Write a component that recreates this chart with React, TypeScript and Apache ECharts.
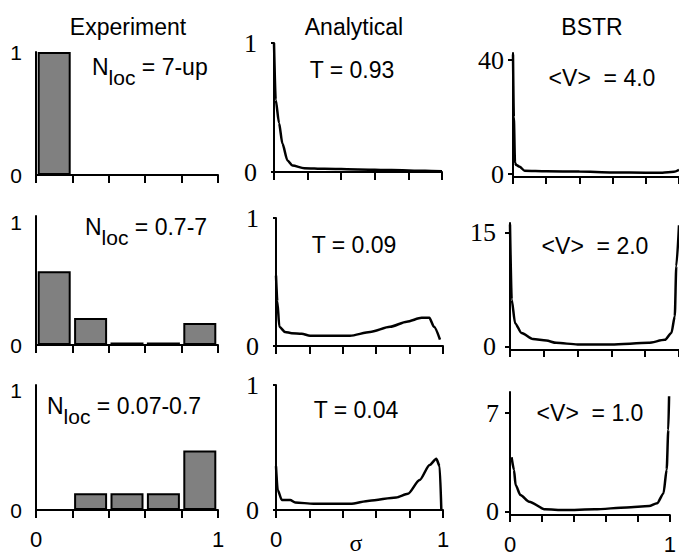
import React, { useEffect, useRef } from "react";
import * as echarts from "echarts";

// ---------- data ----------
const COLUMN_TITLES = ["Experiment", "Analytical", "BSTR"];
const BIN_CENTERS = [0.1, 0.3, 0.5, 0.7, 0.9];
const EXP_7UP: (number | null)[] = [1.0, null, null, null, null];
const EXP_07_7: (number | null)[] = [0.6, 0.22, 0.02, 0.02, 0.18];
const EXP_007_07: (number | null)[] = [null, 0.14, 0.14, 0.14, 0.5];
const NLOC_LABELS = ["7-up", "0.7-7", "0.07-0.7"];
const T_LABELS = ["0.93", "0.09", "0.04"];
const V_LABELS = ["4.0", "2.0", "1.0"];
const EXP_TOP_TICK = 1;
const ANA_TOP_TICK = 1;
const BSTR_TOP_TICKS = [40, 15, 7];
const X_TICK_LABELS = [0, 1];

const ANA1_X = [0, 0.01, 0.03, 0.05, 0.08, 0.11, 0.18, 0.3, 0.5, 0.7, 0.9, 1.0];
const ANA1_Y = [1.0, 0.56, 0.38, 0.22, 0.09, 0.05, 0.03, 0.025, 0.02, 0.015, 0.01, 0.005];
const ANA2_X = [0, 0.008, 0.02, 0.054, 0.094, 0.154, 0.204, 0.3, 0.443, 0.563, 0.683, 0.783, 0.872, 0.918, 0.946, 0.982];
const ANA2_Y = [0.55, 0.35, 0.15, 0.11, 0.1, 0.095, 0.08, 0.08, 0.08, 0.11, 0.15, 0.19, 0.22, 0.22, 0.15, 0.05];
const ANA3_X = [0, 0.01, 0.035, 0.085, 0.115, 0.225, 0.445, 0.56, 0.72, 0.79, 0.86, 0.92, 0.96, 0.98, 0.99];
const ANA3_Y = [0.35, 0.16, 0.08, 0.08, 0.06, 0.05, 0.05, 0.075, 0.1, 0.13, 0.24, 0.36, 0.41, 0.35, 0.0];

const BSTR1_X = [0, 0.005, 0.012, 0.02, 0.04, 0.07, 0.2, 0.4, 0.6, 0.8, 0.9, 0.97, 1.0];
const BSTR1_Y = [42, 20, 4, 3.2, 2.6, 1.2, 1.0, 0.9, 0.6, 0.5, 0.5, 0.8, 1.5];
const BSTR2_X = [0, 0.01, 0.03, 0.068, 0.136, 0.215, 0.273, 0.4, 0.6, 0.819, 0.916, 0.955, 0.975, 0.984, 1.0];
const BSTR2_Y = [16.1, 6.2, 3.1, 1.8, 1.0, 0.8, 0.5, 0.3, 0.3, 0.5, 0.9, 1.8, 4.0, 10.6, 16.0];
const BSTR3_X = [0.01, 0.025, 0.035, 0.065, 0.12, 0.22, 0.34, 0.53, 0.73, 0.87, 0.92, 0.96, 0.98, 0.99, 0.995];
const BSTR3_Y = [3.87, 2.97, 1.9, 1.19, 0.71, 0.17, 0.12, 0.17, 0.31, 0.4, 0.6, 1.3, 3.0, 5.8, 8.2];

// ---------- layout ----------
const SANS = "Liberation Sans, Arial, sans-serif";
const SERIF = "Liberation Serif, Times New Roman, serif";

type Panel = {
  left: number; top: number; width: number; height: number;
  min: number; max: number; col: number; row: number;
};

const PANELS: Panel[] = [
  { col: 0, row: 0, left: 36, top: 52, width: 182, height: 123, min: 0, max: 1 },
  { col: 0, row: 1, left: 36, top: 216, width: 182, height: 129, min: 0, max: 1.05 },
  { col: 0, row: 2, left: 36, top: 385, width: 182, height: 125, min: 0, max: 1.05 },
  { col: 1, row: 0, left: 274, top: 43, width: 168, height: 129, min: 0, max: 1 },
  { col: 1, row: 1, left: 276, top: 218, width: 167, height: 128, min: 0, max: 1 },
  { col: 1, row: 2, left: 276, top: 385, width: 167, height: 125, min: 0, max: 1 },
  { col: 2, row: 0, left: 513, top: 53, width: 170, height: 124, min: -1, max: 42.5 },
  { col: 2, row: 1, left: 510, top: 223, width: 171, height: 127, min: -0.44, max: 16.3 },
  { col: 2, row: 2, left: 510, top: 392, width: 170, height: 123, min: -0.23, max: 8.5 },
];

const EXP_DATA = [EXP_7UP, EXP_07_7, EXP_007_07];
const ANA_DATA = [[ANA1_X, ANA1_Y], [ANA2_X, ANA2_Y], [ANA3_X, ANA3_Y]];
const BSTR_DATA = [[BSTR1_X, BSTR1_Y], [BSTR2_X, BSTR2_Y], [BSTR3_X, BSTR3_Y]];

const Y_LABEL_MARGIN = [[14, 14, 14], [17, 17, 17], [9, 14, 11]];

export default function App() {
  const ref = useRef<HTMLDivElement>(null);

  useEffect(() => {
    if (!ref.current) return;
    const chart = echarts.init(ref.current, null, { renderer: "svg" });

    const grids: any[] = [];
    const xAxes: any[] = [];
    const yAxes: any[] = [];
    const series: any[] = [];

    PANELS.forEach((p, i) => {
      grids.push({ left: p.left, top: p.top, width: p.width, height: p.height, containLabel: false });
      const bottom = p.row === 2;
      xAxes.push({
        gridIndex: i,
        type: "value",
        min: 0,
        max: 1,
        interval: 0.2,
        axisLine: { show: true, onZero: false, lineStyle: { color: "#000", width: 2 } },
        axisTick: { show: true, length: p.col === 2 ? 7 : 8, inside: false, lineStyle: { color: "#000", width: 2 } },
        axisLabel: {
          show: bottom,
          customValues: X_TICK_LABELS,
          color: "#000",
          fontFamily: SANS,
          fontSize: 22,
          margin: 18,
        },
        splitLine: { show: false },
      });
      const top =
        p.col === 0 ? EXP_TOP_TICK : p.col === 1 ? ANA_TOP_TICK : BSTR_TOP_TICKS[p.row];
      yAxes.push({
        gridIndex: i,
        type: "value",
        min: p.min,
        max: p.max,
        axisLine: { show: true, onZero: false, lineStyle: { color: "#000", width: 2 } },
        axisTick: {
          show: p.col !== 0,
          customValues: [0, top],
          length: p.col === 2 ? 5 : 3,
          lineStyle: { color: "#000", width: 2 },
        },
        axisLabel: {
          customValues: [0, top],
          color: "#000",
          fontFamily: p.col === 0 ? SANS : SERIF,
          fontSize: p.col === 0 ? 21 : 26,
          margin: Y_LABEL_MARGIN[p.col][p.row],
        },
        splitLine: { show: false },
      });

      if (p.col === 0) {
        const vals = EXP_DATA[p.row];
        series.push({
          type: "bar",
          xAxisIndex: i,
          yAxisIndex: i,
          barWidth: 33,
          data: BIN_CENTERS.map((x, k) => (vals[k] == null ? null : [x, vals[k]])).filter((d) => d),
          itemStyle: { color: "#808080", borderColor: "#000", borderWidth: 2 },
        });
      } else {
        const [xs, ys] = p.col === 1 ? ANA_DATA[p.row] : BSTR_DATA[p.row];
        series.push({
          type: "line",
          xAxisIndex: i,
          yAxisIndex: i,
          showSymbol: false,
          smooth: 0.25,
          smoothMonotone: "x",
          clip: false,
          data: xs.map((x, k) => [x, ys[k]]),
          lineStyle: { color: "#000", width: 2.5 },
        });
      }
    });

    const titleX = [128, 354, 592];
    const graphics: any[] = COLUMN_TITLES.map((t, c) => ({
      type: "text",
      x: titleX[c],
      y: 27,
      style: { text: t, fill: "#000", font: `23px ${SANS}`, align: "center", verticalAlign: "middle" },
    }));

    const nlocPos = [[92, 67], [85, 227], [47, 406]];
    NLOC_LABELS.forEach((v, r) => {
      graphics.push({
        type: "text",
        x: nlocPos[r][0],
        y: nlocPos[r][1],
        style: {
          text: `{n|N}{s|loc}{n| = ${v}}`,
          fill: "#000",
          align: "left",
          verticalAlign: "middle",
          rich: {
            n: { fontSize: 23, fontFamily: SANS, fill: "#000" },
            s: { fontSize: 21, fontFamily: SANS, fill: "#000", padding: [20, 0, 0, 0] },
          },
        },
      });
    });

    const tPos = [[352, 70], [354, 245], [356, 410]];
    T_LABELS.forEach((v, r) => {
      graphics.push({
        type: "text",
        x: tPos[r][0],
        y: tPos[r][1],
        style: { text: `T = ${v}`, fill: "#000", font: `23px ${SANS}`, align: "center", verticalAlign: "middle" },
      });
    });

    const vPos = [[602, 78], [595, 246], [590, 413]];
    V_LABELS.forEach((v, r) => {
      graphics.push({
        type: "text",
        x: vPos[r][0],
        y: vPos[r][1],
        style: { text: `<V>  = ${v}`, fill: "#000", font: `23px ${SANS}`, align: "center", verticalAlign: "middle" },
      });
    });

    graphics.push({
      type: "text",
      x: 356,
      y: 543,
      style: { text: "σ", fill: "#000", font: `24px ${SERIF}`, align: "center", verticalAlign: "middle" },
    });

    chart.setOption({
      animation: false,
      backgroundColor: "#fff",
      grid: grids,
      xAxis: xAxes,
      yAxis: yAxes,
      series,
      graphic: graphics,
    });

    return () => chart.dispose();
  }, []);

  return (
    <div
      ref={ref}
      style={{ position: "absolute", left: 0, top: 0, width: 679, height: 558 }}
    />
  );
}
